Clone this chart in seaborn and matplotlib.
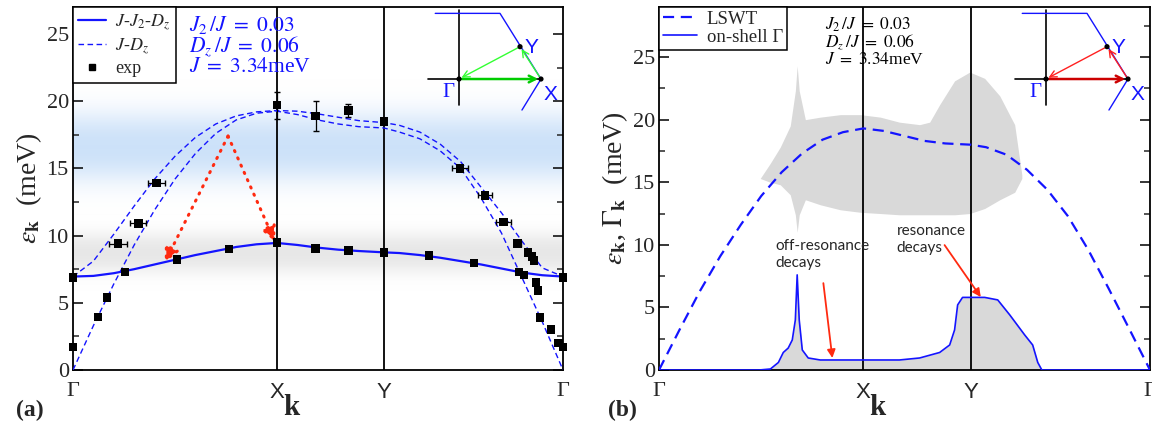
import numpy as np
import matplotlib
matplotlib.use("Agg")
import matplotlib.pyplot as plt
import seaborn as sns

# path positions (Gamma-X = 1)
k_ticks = [0.0, 1.0, 1.525, 2.402]
k_names = ["Γ", "X", "Y", "Γ"]

k_grid = [0.0, 0.1, 0.2, 0.3, 0.4, 0.5, 0.6, 0.7, 0.8, 0.9, 1.0, 1.1, 1.2, 1.3,
          1.4, 1.525, 1.6, 1.7, 1.8, 1.9, 2.0, 2.1, 2.2, 2.3, 2.402]

# panel (a) model curves
e_j2dz = [6.95, 7.0, 7.2, 7.5, 7.85, 8.2, 8.55, 8.85, 9.15, 9.35, 9.45, 9.3, 9.1,
          8.95, 8.85, 8.75, 8.7, 8.55, 8.35, 8.1, 7.85, 7.55, 7.25, 7.05, 6.95]
e_jdz_gapless = [0.0, 3.3, 6.4, 9.3, 11.9, 14.2, 16.1, 17.6, 18.6, 19.1, 19.25, 19.0,
                 18.6, 18.3, 18.1, 18.0, 17.7, 17.2, 16.3, 15.0, 12.8, 10.2, 6.9, 3.6, 0.0]
e_jdz_gapped = [6.95, 8.1, 10.1, 12.2, 14.2, 15.9, 17.3, 18.3, 18.9, 19.2, 19.3, 19.25,
                19.05, 18.8, 18.55, 18.4, 18.2, 17.7, 16.8, 15.5, 13.6, 11.7, 9.6, 7.6, 6.95]

# panel (a) experimental points
exp_k = [0.0, 0.0, 0.123, 0.167, 0.22, 0.255, 0.32, 0.41, 0.51, 0.765, 1.0, 1.0,
         1.19, 1.19, 1.35, 1.35, 1.525, 1.525, 1.745, 1.897, 1.966, 2.02, 2.11,
         2.18, 2.186, 2.21, 2.23, 2.25, 2.26, 2.27, 2.28, 2.29, 2.343, 2.38, 2.402, 2.402]
exp_e = [6.9, 1.7, 3.95, 5.4, 9.4, 7.3, 10.9, 13.9, 8.2, 9.0, 19.7, 9.5,
         18.9, 9.05, 19.3, 8.9, 18.5, 8.75, 8.5, 15.0, 7.95, 13.0, 11.0,
         9.4, 7.3, 7.05, 8.75, 8.45, 8.15, 6.5, 5.9, 3.9, 3.0, 2.0, 1.7, 6.9]
exp_kerr = [0, 0, 0, 0, 0.044, 0, 0.04, 0.04, 0, 0, 0, 0,
            0, 0, 0, 0, 0, 0, 0, 0.04, 0, 0.035, 0.035,
            0.015, 0, 0, 0, 0, 0, 0, 0, 0, 0, 0, 0, 0]
exp_eerr = [0, 0, 0, 0, 0, 0, 0, 0, 0, 0, 1.0, 0,
            1.1, 0, 0.5, 0, 0, 0, 0, 0, 0, 0, 0,
            0, 0, 0, 0, 0, 0, 0, 0, 0, 0, 0, 0, 0]

# panel (b)
e_lswt = [0.0, 3.2, 6.3, 9.1, 11.6, 13.9, 15.8, 17.3, 18.4, 19.0, 19.3, 19.1, 18.7,
          18.3, 18.1, 18.0, 17.8, 17.2, 16.0, 14.4, 12.3, 9.6, 6.5, 3.3, 0.0]

k_gam = [0.0, 0.49, 0.545, 0.584, 0.608, 0.632, 0.652, 0.667, 0.676, 0.686, 0.701,
         0.730, 0.789, 1.0, 1.176, 1.275, 1.373, 1.422, 1.446, 1.461, 1.485, 1.593,
         1.657, 1.716, 1.789, 1.828, 1.853, 1.873, 2.402]
gamma_k = [0.0, 0.0, 0.08, 0.6, 1.4, 1.75, 2.4, 4.0, 7.6, 4.0, 1.6,
           0.96, 0.8, 0.8, 0.8, 0.96, 1.4, 2.0, 3.2, 5.2, 5.8, 5.8,
           5.6, 4.4, 2.8, 2.0, 0.6, 0.0, 0.0]

k_band = [0.495, 0.544, 0.593, 0.642, 0.667, 0.676, 0.686, 0.716, 0.789, 0.887,
          0.985, 1.083, 1.176, 1.275, 1.324, 1.373, 1.446, 1.520, 1.593, 1.667,
          1.740, 1.775]
band_hi = [15.3, 16.5, 17.8, 19.5, 22.3, 24.3, 22.3, 20.0, 20.2, 20.4,
           20.4, 20.2, 19.8, 19.6, 19.8, 21.2, 23.1, 23.8, 23.3, 21.9,
           19.6, 15.6]
band_lo = [15.3, 15.0, 14.8, 14.0, 12.4, 11.0, 12.4, 13.6, 13.2, 12.8,
           12.6, 12.5, 12.4, 12.4, 12.4, 12.4, 12.4, 12.5, 12.9, 13.6,
           14.2, 15.3]

param_text = [r"$J_2\,/J\ =\ 0.03$", r"$D_z\,/J\ =\ 0.06$", r"$J\ =\ 3.34$meV"]

BLUE = "#1414ff"

sns.set_theme(style="ticks")
plt.rcParams["font.family"] = ["Liberation Serif", "DejaVu Serif"]
plt.rcParams["mathtext.fontset"] = "stix"
plt.rcParams["xtick.direction"] = "in"
plt.rcParams["ytick.direction"] = "in"

fig = plt.figure(figsize=(11.52, 4.26), dpi=100)
ax1 = fig.add_axes([73 / 1152, 1 - 370 / 426, 490 / 1152, 363 / 426])
ax2 = fig.add_axes([659 / 1152, 1 - 370 / 426, 491 / 1152, 363 / 426])


def soft_band(ax, center, width, rgb, amax, xmax, ymax):
    yy = np.linspace(0, ymax, 500)
    img = np.zeros((500, 1, 4))
    img[..., :3] = rgb
    img[:, 0, 3] = amax * np.exp(-np.abs((yy - center) / width) ** 2.5)
    ax.imshow(img, extent=[0, xmax, 0, ymax], origin="lower", aspect="auto",
              zorder=0, interpolation="bilinear")


def style_axes(ax, ymax, label, tag, x_tag):
    ax.set_xlim(0, k_ticks[-1])
    ax.set_ylim(0, ymax)
    for s in ax.spines.values():
        s.set_linewidth(1.3)
        s.set_color("black")
    for kk in k_ticks[1:3]:
        ax.axvline(kk, color="black", lw=1.3, zorder=1)
    ax.set_xticks(k_ticks)
    ax.set_xticklabels(k_names)
    for t, name in zip(ax.get_xticklabels(), k_names):
        t.set_fontfamily("Liberation Serif" if name == "Γ" else "Liberation Sans")
        t.set_fontsize(16)
    ax.tick_params(axis="x", length=0, pad=9)
    ax.set_yticks(np.arange(0, 26, 5))
    ax.set_yticks(np.arange(2.5, ymax, 5), minor=True)
    ax.tick_params(axis="y", which="major", length=7, width=1.1, right=True,
                   labelsize=16, pad=3, color="black")
    ax.tick_params(axis="y", which="minor", length=4, width=1.1, right=True)
    ax.set_ylabel(label, fontsize=20, labelpad=2)
    # axis title and panel tag placed in figure pixels
    bb = ax.get_position()
    fig.text(bb.x0 + 0.445 * bb.width, 5 / 426, "k", fontsize=21,
             fontweight="bold", ha="center", va="bottom")
    fig.text(x_tag / 1152, 5 / 426, tag, fontsize=17, fontweight="bold",
             ha="left", va="bottom")


def bz_inset(rect, c_main, c_side):
    ins = fig.add_axes(rect)
    ins.set_xlim(-0.415, 1.293)
    ins.set_ylim(-0.402, 0.902)
    ins.axis("off")
    ins.plot([-0.378, 1.0], [0, 0], color="black", lw=1.2)
    ins.plot([0, 0], [-0.32, 0.84], color="black", lw=1.2)
    ins.plot([-0.29, 0.50, 1.0, 0.768], [0.80, 0.80, 0.0, -0.378], color=BLUE, lw=1.0)
    G, X, Y = (0, 0), (1.0, 0), (0.744, 0.394)
    ins.annotate("", xy=X, xytext=G, arrowprops=dict(arrowstyle="->", color=c_main, lw=1.8))
    ins.annotate("", xy=Y, xytext=X, arrowprops=dict(arrowstyle="->", color=c_side, lw=1.0))
    ins.annotate("", xy=G, xytext=Y, arrowprops=dict(arrowstyle="->", color=c_side, lw=1.0))
    sns.scatterplot(x=[G[0], X[0], Y[0]], y=[G[1], X[1], Y[1]], ax=ins, color="black",
                    s=14, edgecolor="none", zorder=5)
    ins.text(0.80, 0.39, "Y", color=BLUE, fontsize=15, family="Liberation Sans", va="center")
    ins.text(1.03, -0.19, "X", color=BLUE, fontsize=15, family="Liberation Sans", va="center")
    ins.text(-0.2, -0.17, "Γ", color=BLUE, fontsize=15, va="center")


# ---------------- panel (a) ----------------
soft_band(ax1, 16.6, 2.6, (0.74, 0.85, 0.97), 0.75, k_ticks[-1], 27)
soft_band(ax1, 8.7, 1.5, (0.85, 0.85, 0.85), 0.6, k_ticks[-1], 27)

sns.lineplot(x=k_grid, y=e_jdz_gapless, ax=ax1, color=BLUE, lw=1.0,
             linestyle=(0, (4, 2.5)), zorder=3)
sns.lineplot(x=k_grid, y=e_jdz_gapped, ax=ax1, color=BLUE, lw=1.0,
             linestyle=(0, (4, 2.5)), zorder=3)
sns.lineplot(x=k_grid, y=e_j2dz, ax=ax1, color=BLUE, lw=1.6, zorder=3)
ax1.errorbar(exp_k, exp_e, xerr=exp_kerr, yerr=exp_eerr, fmt="none",
             ecolor="black", elinewidth=0.9, capsize=2.5, zorder=4)
sns.scatterplot(x=exp_k, y=exp_e, ax=ax1, marker="s", color="black", s=38,
                edgecolor="none", zorder=5, clip_on=False)

for end in [(0.45, 8.0), (0.99, 9.55)]:
    ax1.annotate("", xy=end, xytext=(0.76, 17.4),
                 arrowprops=dict(arrowstyle="-|>", color="#ff2a10", lw=2.2,
                                 linestyle=(0, (0.4, 2.2)), capstyle="round",
                                 mutation_scale=22, shrinkA=0, shrinkB=0))

style_axes(ax1, 27, r"$\epsilon_{\mathbf{k}}$  (meV)", "(a)", 16)

h1 = plt.Line2D([], [], color=BLUE, lw=1.6)
h2 = plt.Line2D([], [], color=BLUE, lw=1.0, linestyle=(0, (4, 2.5)))
h3 = plt.Line2D([], [], color="black", marker="s", ms=5, lw=0)
leg = ax1.legend([h1, h2, h3], [r"$J$-$J_2$-$D_z$", r"$J$-$D_z$", "exp"],
                 loc="upper left", bbox_to_anchor=(0, 1), borderaxespad=0,
                 fontsize=13, frameon=True, fancybox=False, edgecolor="black",
                 framealpha=1, handlelength=1.5, handletextpad=0.55,
                 labelspacing=0.2, borderpad=0.3)
leg.get_frame().set_linewidth(1.1)

for i, s in enumerate(param_text):
    ax1.text(0.237, 0.95 - i * 0.059, s, transform=ax1.transAxes, color=BLUE,
             fontsize=15.5, va="center")

bz_inset([425 / 1152, 1 - 112 / 426, 140 / 1152, 107 / 426], "#00cc00", "#33ff33")

# ---------------- panel (b) ----------------
ax2.fill_between(k_band, band_lo, band_hi, color="#d9d9d9", lw=0, zorder=1)
ax2.fill_between(k_gam, 0, gamma_k, color="#d9d9d9", lw=0, zorder=1)
sns.lineplot(x=k_grid, y=e_lswt, ax=ax2, color=BLUE, lw=1.6,
             linestyle=(0, (5, 3)), zorder=3)
sns.lineplot(x=k_gam, y=gamma_k, ax=ax2, color=BLUE, lw=1.2, zorder=3)

style_axes(ax2, 29, r"$\epsilon_{\mathbf{k}}$, $\Gamma_{\mathbf{k}}$  (meV)", "(b)", 608)

g1 = plt.Line2D([], [], color=BLUE, lw=1.6, linestyle=(0, (5, 3)))
g2 = plt.Line2D([], [], color=BLUE, lw=1.2)
leg2 = ax2.legend([g1, g2], ["LSWT", "on-shell Γ"], loc="upper left",
                  bbox_to_anchor=(0, 1), borderaxespad=0, fontsize=13.5,
                  frameon=True, fancybox=False, edgecolor="black", framealpha=1,
                  handlelength=1.8, handletextpad=0.55, labelspacing=0.05,
                  borderpad=0.2)
leg2.get_frame().set_linewidth(1.1)

for i, s in enumerate(param_text):
    ax2.text(0.338, 0.952 - i * 0.049, s, transform=ax2.transAxes, color="black",
             fontsize=12.5, va="center")

ax2.text(0.569, 10.5, "off-resonance\ndecays", fontsize=11, family="Lato",
         va="top", ha="left", linespacing=1.3)
ax2.annotate("", xy=(0.848, 0.96), xytext=(0.804, 6.94),
             arrowprops=dict(arrowstyle="-|>", color="#ff2a10", lw=1.3,
                             mutation_scale=12, shrinkA=0, shrinkB=0))
ax2.text(1.162, 11.7, "resonance\ndecays", fontsize=11, family="Lato",
         va="top", ha="left", linespacing=1.3)
ax2.annotate("", xy=(1.574, 5.83), xytext=(1.397, 9.98),
             arrowprops=dict(arrowstyle="-|>", color="#ff2a10", lw=1.3,
                             mutation_scale=12, shrinkA=0, shrinkB=0))

bz_inset([1012 / 1152, 1 - 112 / 426, 140 / 1152, 107 / 426], "#cc0000", "#ff2020")

fig.savefig("out.png", dpi=100)
